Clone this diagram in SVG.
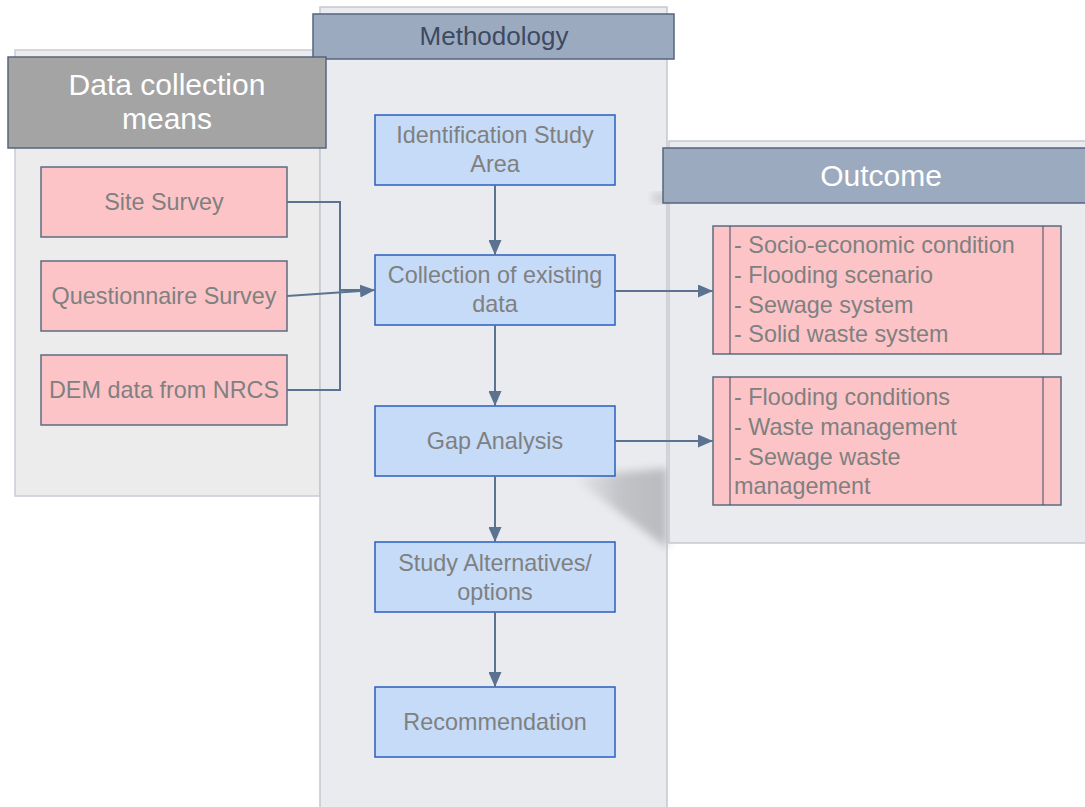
<svg xmlns="http://www.w3.org/2000/svg" width="1085" height="807" viewBox="0 0 1085 807">
<defs>
<style>
.cont{fill:#eaebef;stroke:#c3c7ce;stroke-width:1.5}
.hdr{fill:#9caac0;stroke:#56657d;stroke-width:1.5}
.blue{fill:#c5dbf8;stroke:#2a5fbf;stroke-width:1.5}
.pink{fill:#fdc4c8;stroke:#5e6b80;stroke-width:1.5}
.t{font-family:"Liberation Sans",Arial,sans-serif;font-size:23.4px;fill:#808080}
.h{font-family:"Liberation Sans",Arial,sans-serif;font-size:30px;fill:#ffffff;text-anchor:middle}
.c{text-anchor:middle}
.conn{fill:none;stroke:#5b7290;stroke-width:2}
</style>
<marker id="ah" viewBox="0 0 10 10" refX="10" refY="5" markerWidth="15" markerHeight="13" orient="auto" markerUnits="userSpaceOnUse" preserveAspectRatio="none">
<path d="M0,0 L10,5 L0,10 z" fill="#5b7290"/>
</marker>
<linearGradient id="sh" x1="0" y1="0" x2="1" y2="0">
<stop offset="0" stop-color="#b8babe" stop-opacity="0"/>
<stop offset="0.5" stop-color="#b8babe" stop-opacity="0.8"/>
<stop offset="1" stop-color="#b8babe"/>
</linearGradient>
<filter id="blur" x="-20%" y="-20%" width="140%" height="140%"><feGaussianBlur stdDeviation="4"/></filter>
</defs>
<rect width="1085" height="807" fill="#ffffff"/>

<g id="left-container">
<rect x="15" y="50" width="305" height="446" fill="#ececec" stroke="#c8ccd4" stroke-width="1.5"/>
</g>
<g id="middle-container">
<rect x="320" y="7" width="347" height="810" class="cont"/>
</g>
<g id="shadow">
<polygon points="572,477 667,468 667,548" fill="url(#sh)" filter="url(#blur)"/>
<ellipse cx="660" cy="198" rx="8" ry="5" fill="#c4c6ca" filter="url(#blur)"/>
</g>
<g id="right-container">
<rect x="669" y="141" width="430" height="402" class="cont"/>
</g>

<g id="methodology-header">
<rect x="313" y="14" width="361" height="45" class="hdr"/>
<text x="494" y="45" class="c" style="font-family:'Liberation Sans',Arial,sans-serif;font-size:26px;fill:#3d4a62">Methodology</text>
</g>
<g id="data-header">
<rect x="8" y="57" width="318" height="91" fill="#a4a4a4" stroke="#56657d" stroke-width="1.5"/>
<text x="167" y="95" class="h">Data collection</text>
<text x="167" y="129" class="h">means</text>
</g>
<g id="outcome-header">
<rect x="663" y="148" width="430" height="55" class="hdr"/>
<text x="881" y="186" class="h">Outcome</text>
</g>

<g id="site-survey">
<rect x="41" y="167" width="246" height="70" class="pink"/>
<text x="164" y="210" class="t c">Site Survey</text>
</g>
<g id="questionnaire-survey">
<rect x="41" y="261" width="246" height="70" class="pink"/>
<text x="164" y="304" class="t c">Questionnaire Survey</text>
</g>
<g id="dem-data">
<rect x="41" y="355" width="246" height="70" class="pink"/>
<text x="164" y="398" class="t c">DEM data from NRCS</text>
</g>

<g id="identification">
<rect x="375" y="115" width="240" height="70" class="blue"/>
<text x="495" y="143" class="t c">Identification Study</text>
<text x="495" y="172" class="t c">Area</text>
</g>
<g id="collection">
<rect x="375" y="255" width="240" height="70" class="blue"/>
<text x="495" y="283" class="t c">Collection of existing</text>
<text x="495" y="312" class="t c">data</text>
</g>
<g id="gap-analysis">
<rect x="375" y="406" width="240" height="70" class="blue"/>
<text x="495" y="449" class="t c">Gap Analysis</text>
</g>
<g id="study-alternatives">
<rect x="375" y="542" width="240" height="70" class="blue"/>
<text x="495" y="571" class="t c">Study Alternatives/</text>
<text x="495" y="600" class="t c">options</text>
</g>
<g id="recommendation">
<rect x="375" y="687" width="240" height="70" class="blue"/>
<text x="495" y="730" class="t c">Recommendation</text>
</g>

<g id="outcome-1">
<rect x="713" y="226" width="348" height="128" class="pink"/>
<line x1="730" y1="226" x2="730" y2="354" stroke="#3d4a62" stroke-width="1"/>
<line x1="1043" y1="226" x2="1043" y2="354" stroke="#3d4a62" stroke-width="1"/>
<text x="734" y="253" class="t">- Socio-economic condition</text>
<text x="734" y="283" class="t">- Flooding scenario</text>
<text x="734" y="313" class="t">- Sewage system</text>
<text x="734" y="342" class="t">- Solid waste system</text>
</g>
<g id="outcome-2">
<rect x="713" y="377" width="348" height="128" class="pink"/>
<line x1="730" y1="377" x2="730" y2="505" stroke="#3d4a62" stroke-width="1"/>
<line x1="1043" y1="377" x2="1043" y2="505" stroke="#3d4a62" stroke-width="1"/>
<text x="734" y="405" class="t">- Flooding conditions</text>
<text x="734" y="435" class="t">- Waste management</text>
<text x="734" y="465" class="t">- Sewage waste</text>
<text x="734" y="494" class="t">management</text>
</g>

<g id="connectors">
<polyline points="287,202 340,202 340,390 287,390" class="conn"/>
<line x1="340" y1="290" x2="365" y2="290" class="conn"/>
<line x1="287" y1="296" x2="375" y2="290" class="conn" marker-end="url(#ah)"/>
<line x1="495" y1="185" x2="495" y2="255" class="conn" marker-end="url(#ah)"/>
<line x1="495" y1="325" x2="495" y2="406" class="conn" marker-end="url(#ah)"/>
<line x1="495" y1="476" x2="495" y2="542" class="conn" marker-end="url(#ah)"/>
<line x1="495" y1="612" x2="495" y2="687" class="conn" marker-end="url(#ah)"/>
<line x1="615" y1="291" x2="713" y2="291" class="conn" marker-end="url(#ah)"/>
<line x1="615" y1="441" x2="713" y2="441" class="conn" marker-end="url(#ah)"/>
</g>
</svg>
